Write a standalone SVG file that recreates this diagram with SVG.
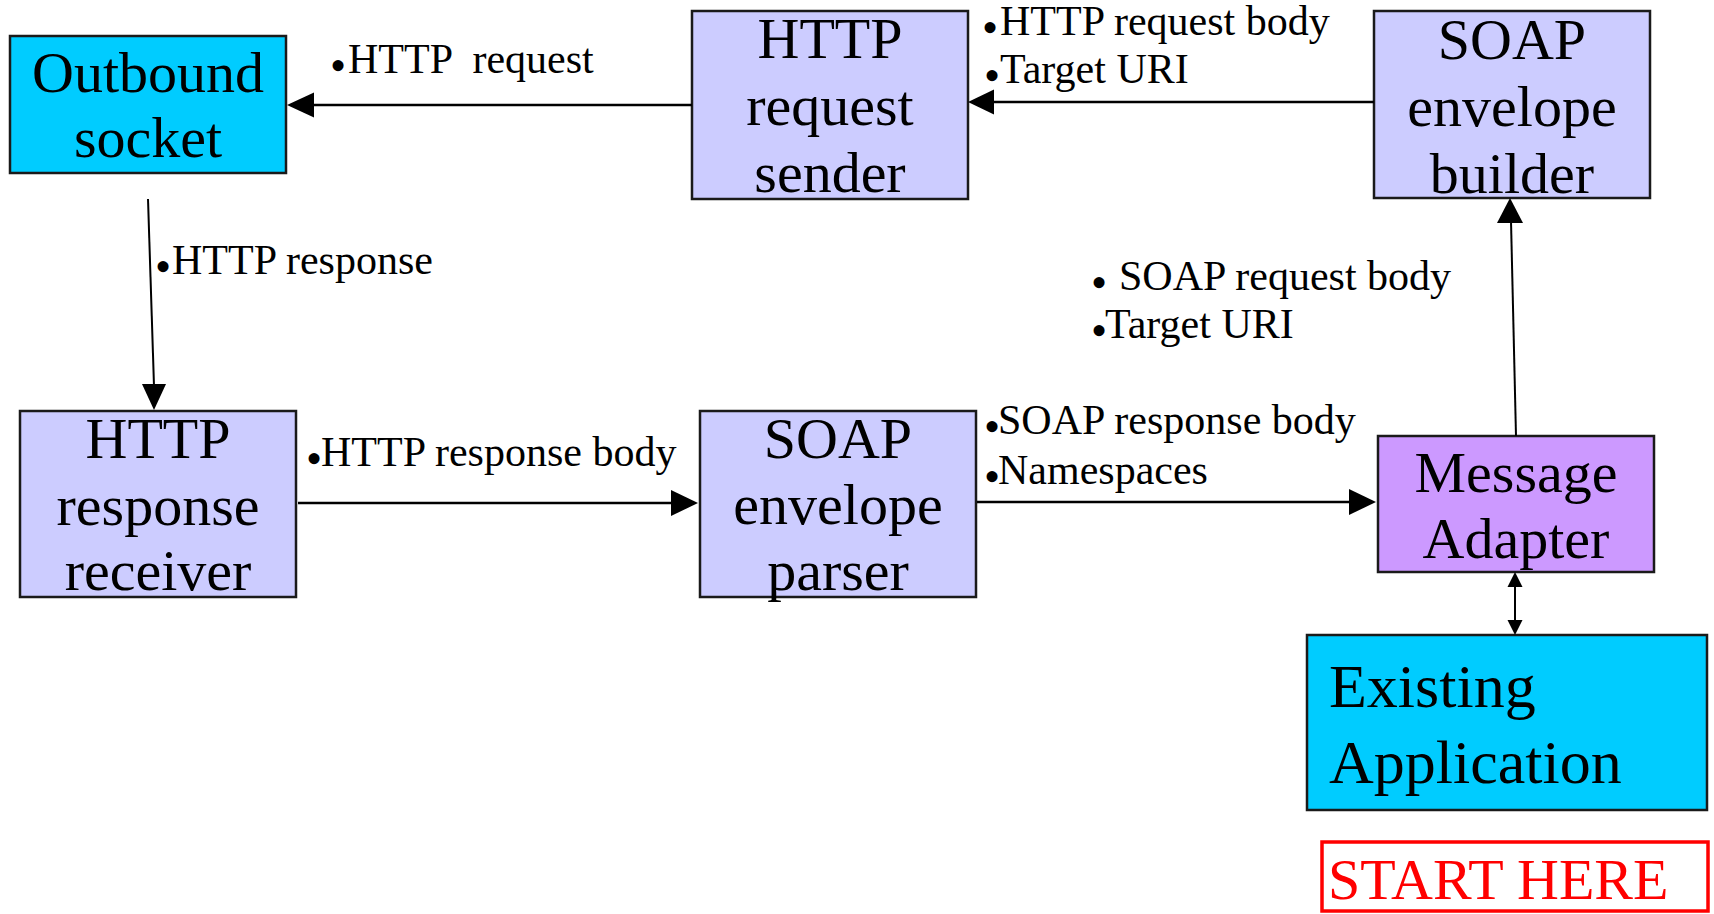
<svg xmlns="http://www.w3.org/2000/svg" width="1714" height="914" viewBox="0 0 1714 914">
<style>
  text { font-family: "Liberation Serif", "Times New Roman", serif; fill: #000; }
  .box { stroke: #1a1a1a; stroke-width: 2.5; }
  .light { fill: #CCCCFF; }
  .cyan { fill: #00CCFF; }
  .violet { fill: #CC99FF; }
  .name { font-size: 58px; text-anchor: middle; }
  .lbl { font-size: 42px; }
  .bul { font-size: 46px; }
  .wire { stroke: #000; fill: none; }
  .head { fill: #000; stroke: none; }
</style>
<rect x="0" y="0" width="1714" height="914" fill="#fff"/>

<g id="outbound-socket">
  <rect class="box cyan" x="10" y="36" width="276" height="137"/>
  <text class="name" x="148" y="92">Outbound</text>
  <text class="name" x="148" y="157">socket</text>
</g>

<g id="http-request-sender">
  <rect class="box light" x="692" y="11" width="276" height="188"/>
  <text class="name" x="830" y="58">HTTP</text>
  <text class="name" x="830" y="125">request</text>
  <text class="name" x="830" y="192">sender</text>
</g>

<g id="soap-envelope-builder">
  <rect class="box light" x="1374" y="11" width="276" height="187"/>
  <text class="name" x="1512" y="59">SOAP</text>
  <text class="name" x="1512" y="126">envelope</text>
  <text class="name" x="1512" y="193">builder</text>
</g>

<g id="http-response-receiver">
  <rect class="box light" x="20" y="411" width="276" height="186"/>
  <text class="name" x="158" y="458">HTTP</text>
  <text class="name" x="158" y="525">response</text>
  <text class="name" x="158" y="590">receiver</text>
</g>

<g id="soap-envelope-parser">
  <rect class="box light" x="700" y="411" width="276" height="186"/>
  <text class="name" x="838" y="458">SOAP</text>
  <text class="name" x="838" y="524">envelope</text>
  <text class="name" x="838" y="590">parser</text>
</g>

<g id="message-adapter">
  <rect class="box violet" x="1378" y="436" width="276" height="136"/>
  <text class="name" x="1516" y="492">Message</text>
  <text class="name" x="1516" y="558">Adapter</text>
</g>

<g id="existing-application">
  <rect class="box cyan" x="1307" y="635" width="400" height="175"/>
  <text x="1329" y="707" font-size="62">Existing</text>
  <text x="1329" y="783" font-size="62">Application</text>
</g>

<g id="start-here">
  <rect x="1322" y="842" width="386" height="69" fill="#fff" stroke="#FF0000" stroke-width="3.5"/>
  <text x="1328" y="899" font-size="58" style="fill:#FF0000">START HERE</text>
</g>

<g id="connectors">
  <!-- builder to sender -->
  <line class="wire" x1="1374" y1="102" x2="992" y2="102" stroke-width="2.5"/>
  <polygon class="head" points="968,102 994,89.5 994,114.5"/>
  <!-- sender to outbound -->
  <line class="wire" x1="692" y1="105" x2="312" y2="105" stroke-width="2.5"/>
  <polygon class="head" points="287,105 314,92.5 314,117.5"/>
  <!-- outbound to receiver -->
  <line class="wire" x1="148" y1="199" x2="154" y2="386" stroke-width="2"/>
  <polygon class="head" points="154,410 142,384 166,384"/>
  <!-- receiver to parser -->
  <line class="wire" x1="298" y1="503" x2="673" y2="503" stroke-width="2.5"/>
  <polygon class="head" points="698,503 671,490 671,516"/>
  <!-- parser to adapter -->
  <line class="wire" x1="977" y1="502" x2="1350" y2="502" stroke-width="2.5"/>
  <polygon class="head" points="1376,502 1349,489 1349,515"/>
  <!-- adapter to builder -->
  <line class="wire" x1="1516" y1="436" x2="1511" y2="221" stroke-width="2"/>
  <polygon class="head" points="1510,198 1497,223 1523,223"/>
  <!-- adapter to existing application (both ways) -->
  <line class="wire" x1="1515" y1="585" x2="1515" y2="622" stroke-width="2"/>
  <polygon class="head" points="1515,572 1507.5,587 1522.5,587"/>
  <polygon class="head" points="1515,635 1507.5,620 1522.5,620"/>
</g>

<g id="labels">
  <text class="lbl" xml:space="preserve"><tspan class="bul" x="330" y="81">•</tspan><tspan x="348" y="73">HTTP  request</tspan></text>
  <text class="lbl"><tspan class="bul" x="982" y="43">•</tspan><tspan x="1000" y="35">HTTP request body</tspan></text>
  <text class="lbl"><tspan class="bul" x="984" y="91">•</tspan><tspan x="1000" y="83">Target URI</tspan></text>
  <text class="lbl"><tspan class="bul" x="155" y="282">•</tspan><tspan x="172" y="274">HTTP response</tspan></text>
  <text class="lbl" xml:space="preserve"><tspan class="bul" x="1091" y="298">•</tspan><tspan x="1108.5" y="290"> SOAP request body</tspan></text>
  <text class="lbl"><tspan class="bul" x="1091" y="346">•</tspan><tspan x="1105" y="338">Target URI</tspan></text>
  <text class="lbl"><tspan class="bul" x="306" y="474">•</tspan><tspan x="321" y="466">HTTP response body</tspan></text>
  <text class="lbl"><tspan class="bul" x="984" y="442">•</tspan><tspan x="998" y="434">SOAP response body</tspan></text>
  <text class="lbl"><tspan class="bul" x="984" y="492">•</tspan><tspan x="998" y="484">Namespaces</tspan></text>
</g>
</svg>
